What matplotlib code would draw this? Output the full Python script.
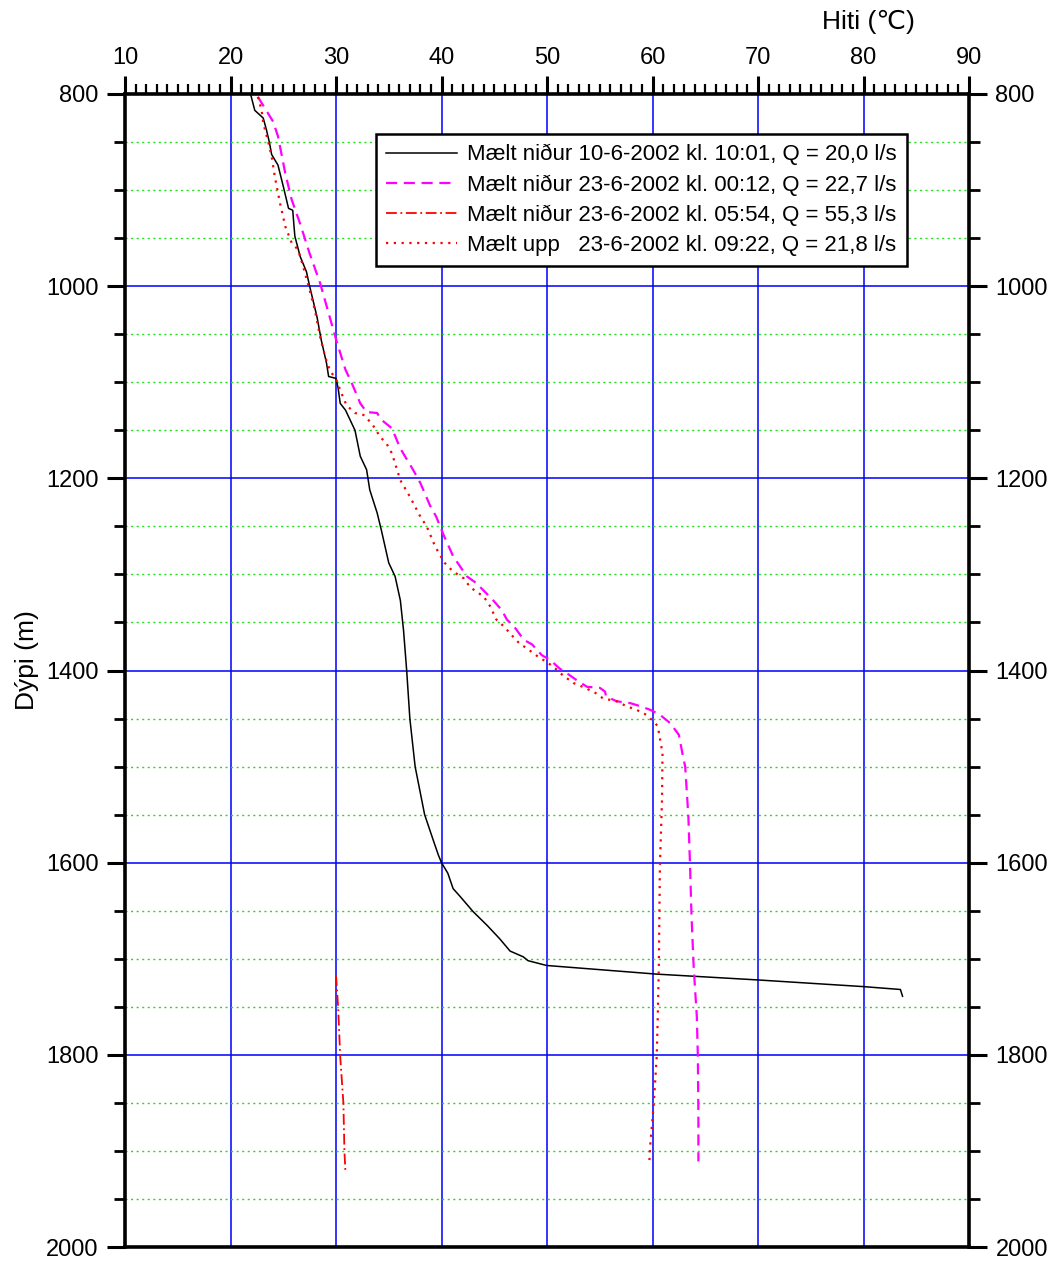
import matplotlib
matplotlib.use("Agg")
import matplotlib.pyplot as plt
from matplotlib.ticker import MultipleLocator

plt.rcParams['font.family'] = ['Liberation Sans', 'DejaVu Sans']

# Series 1: Mælt niður 10-6-2002 kl. 10:01, Q = 20,0 l/s
t1 = [21.9, 22.3, 23.1, 23.4, 23.7, 23.9, 24.5, 25.0, 25.5, 25.9, 26.0, 26.1, 26.6, 27.2, 27.5,
      28.2, 28.6, 29.1, 29.3, 30.0, 30.2, 30.4, 30.9, 31.8, 32.3, 32.9, 33.2, 33.9, 34.3, 35.0,
      35.6, 36.1, 36.4, 36.7, 37.0, 37.5, 38.4, 39.2, 39.7, 40.0, 40.6, 41.1, 41.75, 43.0, 44.3,
      45.5, 46.5, 47.75, 48.2, 49.96, 60.4, 69.9, 80.0, 83.5, 83.7]
d1 = [800, 817, 825, 837, 851, 863, 874, 896, 919, 921, 935, 948, 969, 985, 1000,
      1032, 1056, 1080, 1094, 1096, 1106, 1122, 1129, 1150, 1177, 1191, 1212, 1236, 1254, 1288,
      1302, 1327, 1358, 1400, 1450, 1500, 1550, 1576, 1592, 1600, 1611, 1627, 1635, 1651, 1665,
      1679, 1692, 1698, 1702, 1707, 1716, 1722, 1729, 1732, 1739]

# Series 2: Mælt niður 23-6-2002 kl. 00:12, Q = 22,7 l/s
t2 = [22.6, 24.05, 24.5, 25.2, 25.8, 26.6, 27.5, 28.5, 29.4, 30.1, 30.9, 31.5, 32.3, 32.9, 33.9,
      34.3, 35.3, 36.1, 37.3, 38.0, 38.9, 39.5, 40.2, 41.1, 42.4, 43.3, 44.9, 45.7, 46.2, 47.0,
      47.8, 48.6, 49.5, 50.3, 51.2, 51.9, 52.8, 53.8, 55.0, 55.5, 55.6, 56.6, 57.9, 58.8, 59.8,
      60.7, 61.7, 62.5, 62.9, 63.1, 63.4, 63.55, 63.7, 63.9, 64.2, 64.3, 64.35, 64.35]
d2 = [803, 829, 844, 883, 910, 935, 966, 997, 1032, 1059, 1087, 1101, 1122, 1131, 1132,
      1139, 1148, 1169, 1191, 1205, 1228, 1240, 1259, 1281, 1302, 1309, 1327, 1337, 1347, 1356,
      1368, 1373, 1384, 1389, 1398, 1403, 1410, 1417, 1418, 1422, 1427, 1432, 1434, 1437, 1441,
      1446, 1455, 1467, 1490, 1500, 1552, 1600, 1656, 1708, 1760, 1802, 1864, 1911]

# Series 3: Mælt niður 23-6-2002 kl. 05:54, Q = 55,3 l/s
t3 = [30.0, 30.2, 30.4, 30.7, 30.8, 30.9]
d3 = [1717, 1750, 1802, 1850, 1901, 1923]

# Series 4: Mælt upp 23-6-2002 kl. 09:22, Q = 21,8 l/s
t4 = [22.6, 22.95, 23.1, 23.6, 23.9, 24.2, 24.7, 25.2, 25.8, 26.4, 26.9, 27.5, 28.0, 28.5, 28.96,
      29.4, 30.05, 30.5, 31.0, 31.8, 32.6, 33.4, 34.2, 34.8, 35.3, 36.1, 37.0, 38.0, 38.6, 39.4,
      40.3, 41.1, 42.1, 42.7, 43.3, 44.0, 44.6, 45.2, 45.9, 46.8, 47.4, 48.1, 49.2, 50.1, 50.9,
      51.5, 52.5, 53.6, 54.7, 55.3, 56.6, 57.5, 58.5, 59.4, 60.1, 60.5, 60.95, 60.9, 60.7, 60.6,
      60.5, 60.4, 60.1, 59.8, 59.7]
d4 = [803, 817, 830, 851, 865, 886, 914, 938, 955, 962, 980, 1004, 1025, 1053, 1073,
      1087, 1098, 1111, 1124, 1132, 1134, 1143, 1157, 1164, 1174, 1202, 1219, 1240, 1250, 1271,
      1288, 1297, 1304, 1313, 1318, 1323, 1333, 1347, 1354, 1365, 1372, 1377, 1386, 1392, 1399,
      1405, 1413, 1418, 1424, 1429, 1432, 1437, 1441, 1446, 1453, 1458, 1486, 1535, 1604, 1708,
      1760, 1802, 1854, 1892, 1911]

labels = ["Mælt niður 10-6-2002 kl. 10:01, Q = 20,0 l/s",
          "Mælt niður 23-6-2002 kl. 00:12, Q = 22,7 l/s",
          "Mælt niður 23-6-2002 kl. 05:54, Q = 55,3 l/s",
          "Mælt upp   23-6-2002 kl. 09:22, Q = 21,8 l/s"]

fig = plt.figure(figsize=(10.6, 12.62), dpi=100)
ax = fig.add_axes([125/1060, 1 - 1247/1262, (969-125)/1060, (1247-94)/1262])

ax.plot(t1, d1, color='black', lw=1.1, ls='-', label=labels[0], zorder=5)
ax.plot(t2, d2, color='#ff00ff', lw=1.6, ls=(0, (5, 3)), label=labels[1], zorder=5)
ax.plot(t3, d3, color='#ff0000', lw=1.3, ls=(0, (6, 2, 1, 2)), label=labels[2], zorder=5)
ax.plot(t4, d4, color='#ff0000', lw=1.6, ls=(0, (1, 2.5)), label=labels[3], zorder=5)

ax.set_xlim(10, 90)
ax.set_ylim(2000, 800)

ax.xaxis.set_major_locator(MultipleLocator(10))
ax.xaxis.set_minor_locator(MultipleLocator(1))
ax.yaxis.set_major_locator(MultipleLocator(200))
ax.yaxis.set_minor_locator(MultipleLocator(50))

ax.xaxis.tick_top()
ax.tick_params(axis='x', which='major', top=True, bottom=False, labeltop=True, labelbottom=False,
               direction='out', length=13, width=2.2, labelsize=17, pad=5)
ax.tick_params(axis='x', which='minor', top=True, bottom=False, direction='out', length=7, width=1.6)
ax.tick_params(axis='y', which='major', left=True, right=True, labelleft=True, labelright=True,
               direction='out', length=13, width=2.2, labelsize=17, pad=6)
ax.tick_params(axis='y', which='minor', left=True, right=True, direction='out', length=8, width=2.0)

ax.grid(True, axis='x', which='major', color='#0000ff', lw=1.3, alpha=0.85)
ax.grid(True, axis='y', which='major', color='#0000ff', lw=1.3, alpha=0.85)
ax.grid(True, axis='y', which='minor', color='#22dd22', lw=1.0, ls=(0, (1.5, 2.5)))
ax.set_axisbelow(True)

for s in ax.spines.values():
    s.set_linewidth(2.6)
    s.set_zorder(6)

leg = ax.legend(loc='upper left', bbox_to_anchor=((376-125)/844, (1247-134)/1153),
                fontsize=16, frameon=True, fancybox=False, edgecolor='black',
                handlelength=3.2, handletextpad=0.45, borderpad=0.45, labelspacing=0.4,
                borderaxespad=0)
leg.get_frame().set_linewidth(1.8)
leg.get_frame().set_alpha(1)
leg.set_zorder(10)

fig.text(868/1060, 1 - 22/1262, "Hiti (\u2103)", ha='center', va='center', fontsize=19)
fig.text(27/1060, 1 - 660/1262, "Dýpi (m)", ha='center', va='center', rotation=90, fontsize=19)

fig.savefig("out.png", dpi=100)
